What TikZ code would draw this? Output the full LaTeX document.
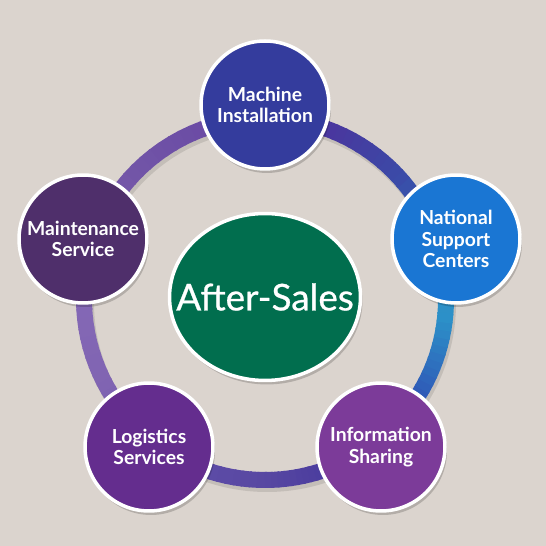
\documentclass[tikz,border=0pt]{standalone}
\usepackage{fontspec}
\setmainfont{Lato}
\newfontfamily\hubfont[FakeBold=0.7]{Lato}
\usetikzlibrary{shapes.geometric,shadows}
\definecolor{bgcol}{HTML}{DBD4CE}
\definecolor{machcol}{HTML}{343C9D}
\definecolor{natcol}{HTML}{1A76D3}
\definecolor{infocol}{HTML}{7C3B99}
\definecolor{logcol}{HTML}{642D8E}
\definecolor{maintcol}{HTML}{4F2F6B}
\definecolor{hubcol}{HTML}{016E4E}
% ring colours, going round counter-clockwise
\definecolor{rcA}{HTML}{2C93C9}
\definecolor{rcB}{HTML}{3A4CA8}
\definecolor{rcC}{HTML}{4A369E}
\definecolor{rcD}{HTML}{6B4CA5}
\definecolor{rcE}{HTML}{7558A8}
\definecolor{rcF}{HTML}{8468B5}
\definecolor{rcG}{HTML}{8064B2}
\definecolor{rcH}{HTML}{5E4CA8}
\definecolor{rcI}{HTML}{5848A2}
\definecolor{rcJ}{HTML}{4A3C9E}
\definecolor{rcK}{HTML}{2F5DB8}
\begin{document}
\begin{tikzpicture}[x=0.02cm,y=0.02cm,
  spot/.style={circle,draw=white,line width=0.07cm,minimum size=2.56cm,inner sep=0pt,
    text=white,align=center,font=\bfseries\fontsize{11}{12.3}\selectfont,
    drop shadow={shadow xshift=0.04cm,shadow yshift=-0.08cm,opacity=0.18,fill=black}},
  hub/.style={ellipse,draw=white,line width=0.07cm,minimum width=3.82cm,minimum height=3.34cm,
    inner xsep=-0.6cm,inner ysep=0pt,fill=hubcol,text=white,font=\hubfont\fontsize{21}{24}\selectfont,
    drop shadow={shadow xshift=0.04cm,shadow yshift=-0.08cm,opacity=0.18,fill=black}}]
\def\rR{181}
\def\rW{0.32cm}
\fill[bgcol] (0,0) rectangle (546,546);
\useasboundingbox (0,0) rectangle (546,546);
\coordinate (ctr) at (265,247);
%ring shadow
\draw[line width=\rW,black,opacity=0.1] ([shift={(2,-4)}]ctr) circle (\rR);
%ring, blended in small pieces
\foreach \a/\b/\ca/\cb in {-5/40/rcA/rcB,40/70/rcB/rcC,70/110/rcC/rcD,110/145/rcD/rcE,
    145/180/rcE/rcF,180/210/rcF/rcG,210/245/rcG/rcH,245/270/rcH/rcI,270/290/rcI/rcJ,
    290/330/rcJ/rcK,330/355/rcK/rcA}
  \foreach \i in {0,...,9}
  {
    \pgfmathsetmacro\s{\a+(\b-\a)*\i/10}
    \pgfmathsetmacro\d{(\b-\a)/10+0.6}
    \pgfmathtruncatemacro\p{95-10*\i}
    \draw[line width=\rW,\ca!\p!\cb] (ctr) ++(\s:\rR) arc[start angle=\s,delta angle=\d,radius=\rR];
  }
\path
(265,441) node [spot,fill=machcol] (mach) {Machine\\Installation}
(456,307) node [spot,fill=natcol] (natl) {National\\Support\\Centers}
(381,99) node [spot,fill=infocol] (info) {Information\\Sharing}
(149,99) node [spot,fill=logcol] (logi) {Logistics\\Services}
(83,307) node [spot,fill=maintcol] (maint) {Maintenance\\Service}
(265,249) node [hub] (aft) {After-Sales}
;
\end{tikzpicture}
\end{document}
